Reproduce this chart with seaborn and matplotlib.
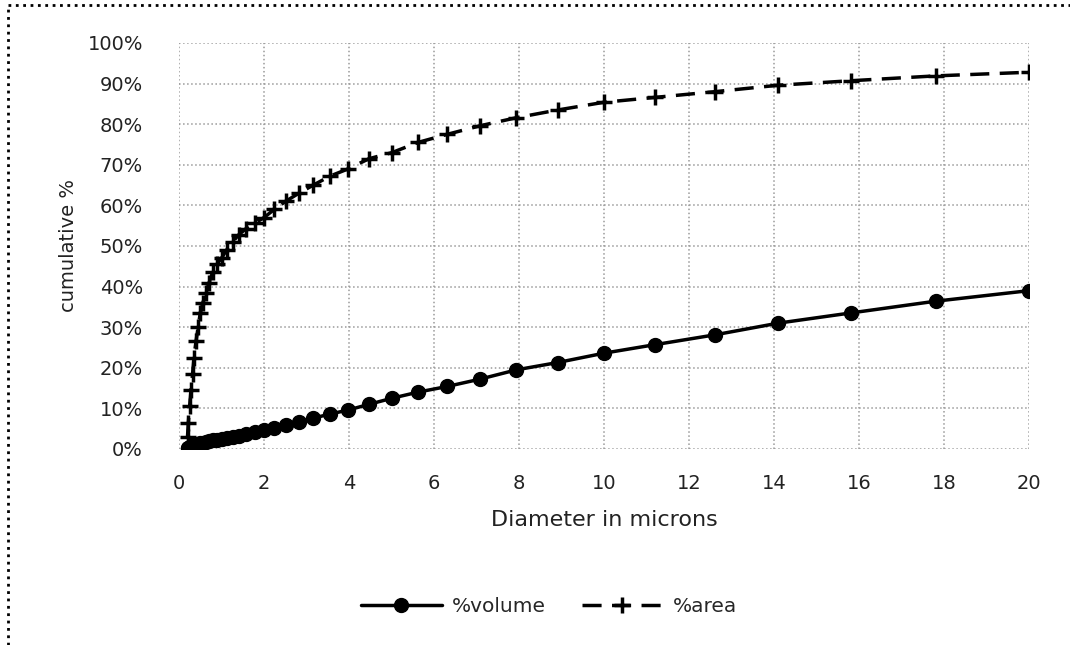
import matplotlib
matplotlib.use("Agg")
import matplotlib.pyplot as plt
import seaborn as sns
from matplotlib.ticker import PercentFormatter, MultipleLocator
from matplotlib.lines import Line2D

# Datos (diametro en micras, % acumulado)
diametro = [0.20, 0.22, 0.25, 0.28, 0.32, 0.35, 0.40, 0.45, 0.50, 0.56,
            0.63, 0.71, 0.79, 0.89, 1.00, 1.12, 1.26, 1.41, 1.58, 1.78,
            2.00, 2.24, 2.51, 2.82, 3.16, 3.55, 3.98, 4.47, 5.01, 5.62,
            6.31, 7.08, 7.94, 8.91, 10.0, 11.2, 12.6, 14.1, 15.8, 17.8, 20.0]

pct_volumen = [0.2, 0.35, 0.5, 0.65, 0.8, 0.95, 1.1, 1.25, 1.4, 1.55,
               1.7, 1.9, 2.1, 2.3, 2.5, 2.75, 3.0, 3.3, 3.6, 4.1,
               4.7, 5.2, 5.8, 6.6, 7.6, 8.6, 9.6, 11.0, 12.5, 14.0,
               15.4, 17.2, 19.5, 21.3, 23.6, 25.7, 28.1, 31.0, 33.5, 36.4, 39.0]

pct_area = [3.0, 6.5, 10.5, 14.5, 18.5, 22.5, 26.5, 30.0, 33.5, 36.0,
            38.5, 41.0, 43.5, 45.5, 47.0, 49.0, 51.0, 52.8, 54.3, 55.6,
            57.0, 59.0, 61.0, 63.0, 65.0, 67.2, 69.0, 71.5, 73.0, 75.5,
            77.5, 79.6, 81.6, 83.5, 85.4, 86.6, 88.0, 89.6, 90.7, 91.9, 92.8]

etiquetas = ["%volume", "%area"]

sns.set_style("white")
plt.rcParams['font.family'] = ['DejaVu Sans']

fig = plt.figure(figsize=(10.7, 6.45), dpi=100)
ax = fig.add_axes([179 / 1070, 1 - 449 / 645, 850 / 1070, 406 / 645])

sns.lineplot(x=diametro, y=pct_volumen, ax=ax, color="black", linewidth=2.5,
             marker="o", markersize=10, markeredgecolor="black",
             markeredgewidth=1, label=etiquetas[0], sort=False)
sns.lineplot(x=diametro, y=pct_area, ax=ax, color="black", linewidth=2.5,
             marker="+", markersize=12, markeredgewidth=2.5,
             markeredgecolor="black", label=etiquetas[1], sort=False)
ax.lines[1].set_dashes((5.5, 3))

ax.set_xlim(0, 20)
ax.set_ylim(0, 100)
ax.xaxis.set_major_locator(MultipleLocator(2))
ax.yaxis.set_major_locator(MultipleLocator(10))
ax.yaxis.set_major_formatter(PercentFormatter(xmax=100, decimals=0))

ax.grid(True, color="#9a9a9a", linestyle=":", linewidth=1.1)
for s in ax.spines.values():
    s.set_visible(False)

ax.tick_params(axis="both", length=0, labelsize=14, colors="#222222")
ax.tick_params(axis="y", pad=26)
ax.tick_params(axis="x", pad=18)
ax.set_xlabel("Diameter in microns", fontsize=16, labelpad=12, color="#222222")
ax.set_ylabel("cumulative %", fontsize=14, labelpad=7, color="#222222")

leg = ax.legend(loc="center", bbox_to_anchor=(549 / 1070, 1 - 607 / 645),
                bbox_transform=fig.transFigure, ncol=2, frameon=False,
                fontsize=14.5, handlelength=4.0, handletextpad=0.5,
                columnspacing=1.8)
for h in leg.get_lines():
    h.set_markeredgecolor("black")

# borde exterior (solo izquierda y arriba visibles)
fig.add_artist(Line2D([8 / 1070, 8 / 1070], [0, 1 - 5 / 645],
                      transform=fig.transFigure, color="black",
                      linewidth=2, linestyle=":"))
fig.add_artist(Line2D([8 / 1070, 1], [1 - 5 / 645, 1 - 5 / 645],
                      transform=fig.transFigure, color="black",
                      linewidth=2, linestyle=":"))

fig.savefig("out.png", dpi=100)
